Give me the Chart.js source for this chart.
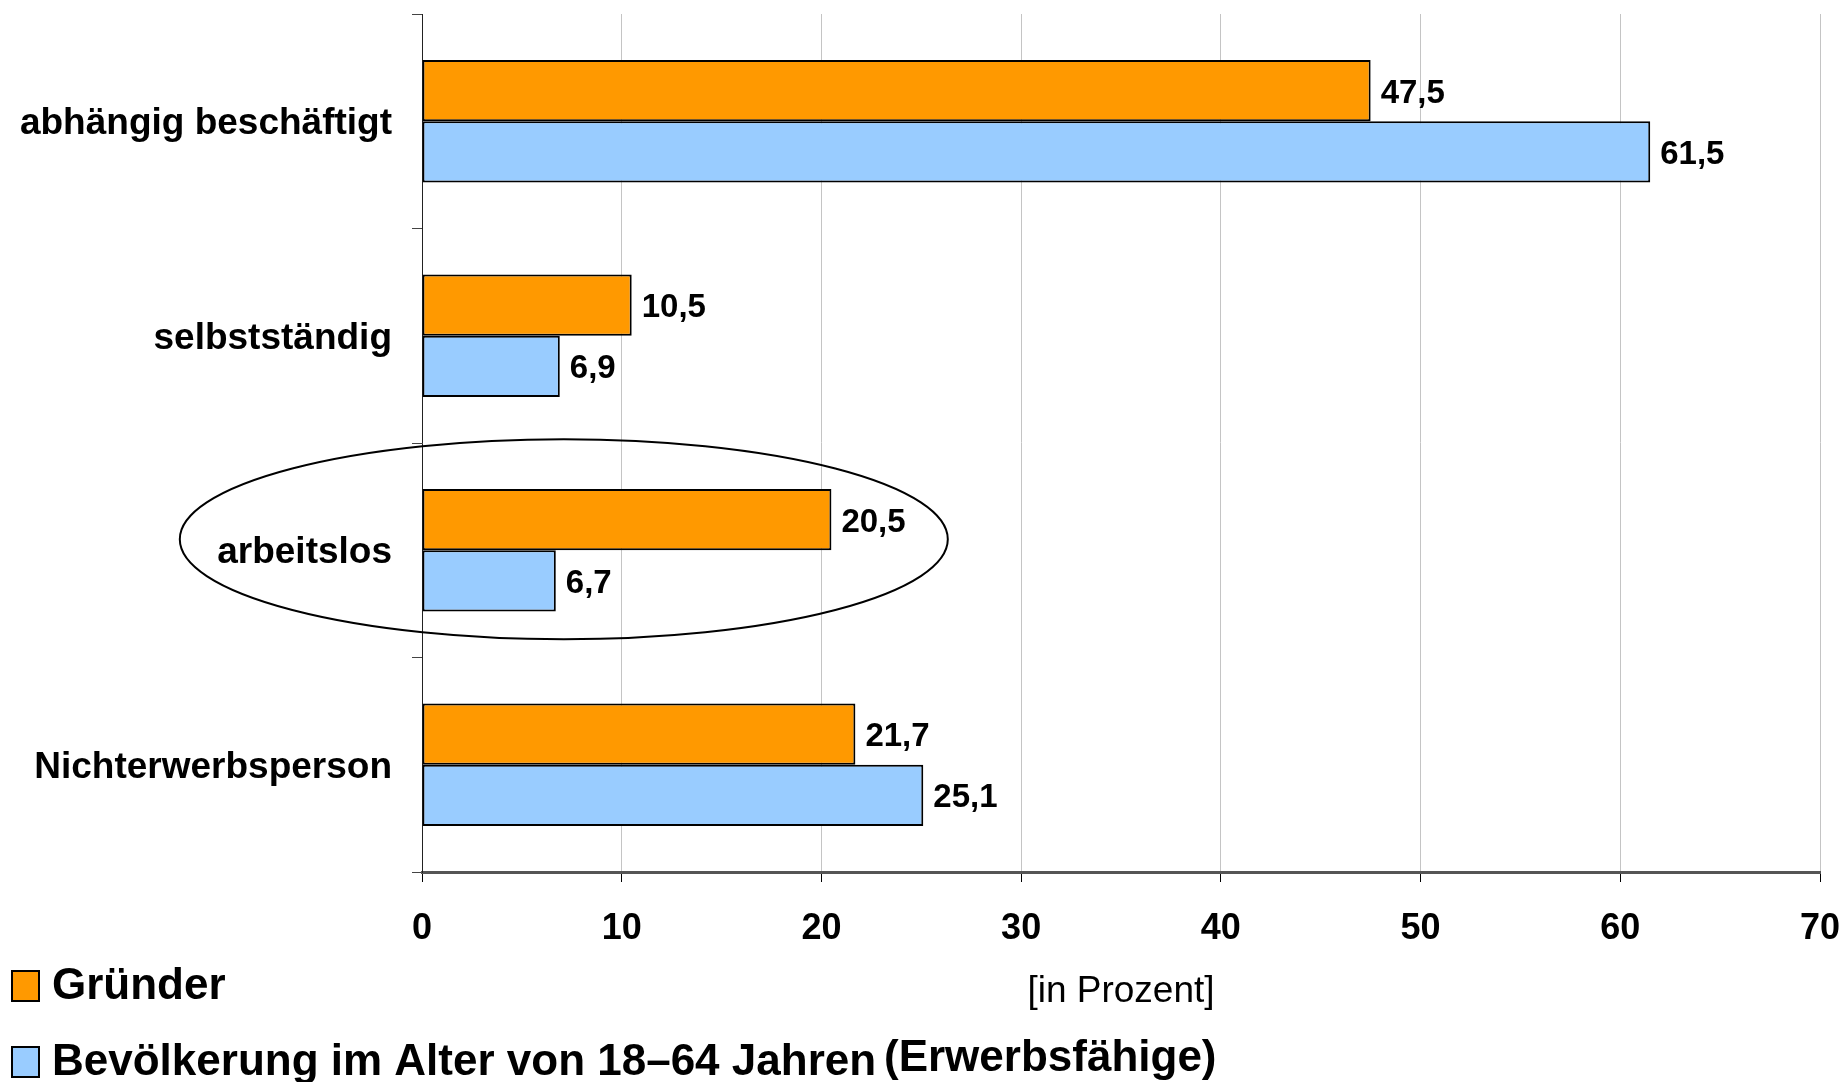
<!DOCTYPE html>
<html>
<head>
<meta charset="utf-8">
<script src="https://cdn.jsdelivr.net/npm/chart.js@4/dist/chart.umd.min.js"></script>
<style>
	html, body { margin: 0; padding: 0; background: #fff; }
	#wrap { width: 1843px; height: 1082px; position: relative; }
</style>
</head>
<body>
<div id="wrap"><canvas id="chart"></canvas></div>
<script>
const categories = ['abhängig beschäftigt', 'selbstständig', 'arbeitslos', 'Nichterwerbsperson'];
const gruender = [47.5, 10.5, 20.5, 21.7];
const bevoelkerung = [61.5, 6.9, 6.7, 25.1];
const seriesNames = ['Gründer', 'Bevölkerung im Alter von 18–64 Jahren'];
const seriesNote = '(Erwerbsfähige)';
const xMin = 0, xMax = 70, xStep = 10;
const axisTitle = '[in Prozent]';

const FONT = '"Liberation Sans", Arial, Helvetica, sans-serif';

function fmt(v) {
	return v.toFixed(1).replace('.', ',');
}

// value labels right of each bar
const valueLabels = {
	id: 'valueLabels',
	afterDatasetsDraw(chart) {
		const ctx = chart.ctx;
		ctx.save();
		ctx.font = 'bold 33px ' + FONT;
		ctx.fillStyle = '#000';
		ctx.textAlign = 'left';
		ctx.textBaseline = 'middle';
		chart.data.datasets.forEach(function(ds, i) {
			chart.getDatasetMeta(i).data.forEach(function(bar, j) {
				ctx.fillText(fmt(ds.data[j]), bar.x + 10, bar.y + 3);
			});
		});
		ctx.restore();
	}
};

// ellipse around "arbeitslos" and the legend below the axis
const extras = {
	id: 'extras',
	afterDraw(chart) {
		const ctx = chart.ctx;
		const x = chart.scales.x, y = chart.scales.y;
		ctx.save();
		ctx.strokeStyle = '#000';
		ctx.lineWidth = 2;
		ctx.beginPath();
		ctx.ellipse(x.getPixelForValue(7.1), y.getPixelForValue(2) - 11, 384, 100, 0, 0, Math.PI * 2);
		ctx.stroke();

		// legend
		const rows = [985, 1061];
		ctx.font = 'bold 44px ' + FONT;
		ctx.textBaseline = 'middle';
		ctx.textAlign = 'left';
		chart.data.datasets.forEach(function(ds, i) {
			const cy = rows[i];
			ctx.fillStyle = ds.backgroundColor;
			ctx.fillRect(12, cy - 14, 27, 30);
			ctx.lineWidth = 2;
			ctx.strokeStyle = '#000';
			ctx.strokeRect(12, cy - 14, 27, 30);
			ctx.fillStyle = '#000';
			ctx.fillText(seriesNames[i], 52, cy + 2);
		});
		ctx.fillText(seriesNote, 884, rows[1] - 2);
		ctx.restore();
	}
};

new Chart(document.getElementById('chart').getContext('2d'), {
	type: 'bar',
	data: {
		labels: categories,
		datasets: [{
			label: seriesNames[0],
			data: gruender,
			backgroundColor: '#FF9900',
			borderColor: '#000',
			borderWidth: 2,
			borderSkipped: false
		}, {
			label: seriesNames[1],
			data: bevoelkerung,
			backgroundColor: '#99CCFF',
			borderColor: '#000',
			borderWidth: 2,
			borderSkipped: false
		}]
	},
	options: {
		indexAxis: 'y',
		responsive: true,
		maintainAspectRatio: false,
		animation: false,
		categoryPercentage: 0.57,
		barPercentage: 1,
		layout: { padding: { top: 14, right: 23, bottom: 0, left: 0 } },
		plugins: {
			legend: { display: false },
			tooltip: { enabled: false }
		},
		scales: {
			x: {
				min: xMin,
				max: xMax,
				ticks: {
					stepSize: xStep,
					color: '#000',
					padding: 25,
					font: { family: FONT, size: 36, weight: 'bold' }
				},
				grid: {
					color: '#c4c4c4',
					lineWidth: 1,
					tickColor: '#000',
					tickLength: 10
				},
				border: { color: '#555', width: 3 },
				title: {
					display: true,
					text: axisTitle,
					color: '#000',
					font: { family: FONT, size: 37, weight: 'normal' },
					padding: { top: 0, bottom: 68 }
				},
				afterFit(scale) {
					scale.height = 210;
					scale.paddingLeft = 0;
					scale.paddingRight = 0;
				}
			},
			y: {
				ticks: {
					color: '#000',
					padding: 20,
					labelOffset: 3,
					font: { family: FONT, size: 37, weight: 'bold' }
				},
				grid: {
					drawOnChartArea: false,
					tickColor: '#444',
					tickLength: 10
				},
				border: { color: '#222', width: 1 },
				afterFit(scale) {
					scale.width = 422;
					scale.paddingTop = 0;
					scale.paddingBottom = 0;
				}
			}
		}
	},
	plugins: [valueLabels, extras]
});
</script>
</body>
</html>
